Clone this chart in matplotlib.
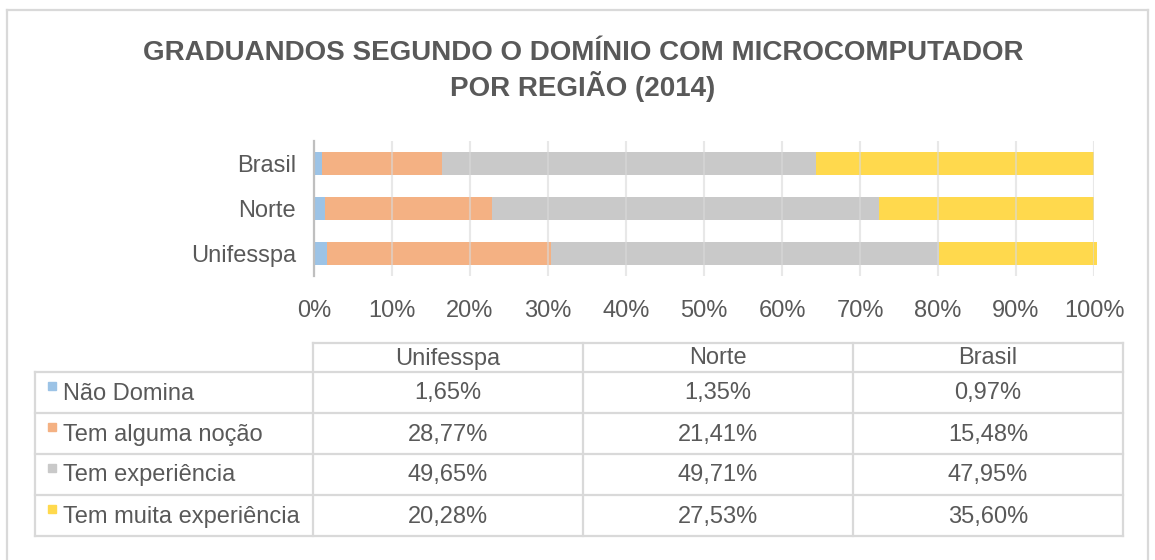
import matplotlib
matplotlib.use("Agg")
import matplotlib.pyplot as plt
from matplotlib.patches import Rectangle
from matplotlib.lines import Line2D

plt.rcParams['font.family'] = ['Liberation Sans', 'DejaVu Sans']

# ---- data ----
regions = ["Unifesspa", "Norte", "Brasil"]
series_names = ["Não Domina", "Tem alguma noção", "Tem experiência", "Tem muita experiência"]
nao_domina = [1.65, 1.35, 0.97]
alguma_nocao = [28.77, 21.41, 15.48]
experiencia = [49.65, 49.71, 47.95]
muita_experiencia = [20.28, 27.53, 35.60]
series_values = [nao_domina, alguma_nocao, experiencia, muita_experiencia]
x_ticks = [0, 10, 20, 30, 40, 50, 60, 70, 80, 90, 100]
x_tick_labels = [f"{t}%" for t in x_ticks]
title = "GRADUANDOS SEGUNDO O DOMÍNIO COM MICROCOMPUTADOR\nPOR REGIÃO (2014)"

colors = ["#9cc3e6", "#f4b183", "#c9c9c9", "#ffd94d"]
text_color = "#595959"
line_color = "#d9d9d9"

W, H = 1155, 560
fig = plt.figure(figsize=(W / 100, H / 100), dpi=100)
fig.patch.set_facecolor("white")

def fx(x):
    return x / W

def fy(y):
    return 1 - y / H

# figure frame
for (x0, y0, x1, y1) in [(7, 10, 1148, 10), (7, 10, 7, 560), (1148, 10, 1148, 560)]:
    fig.add_artist(Line2D([fx(x0), fx(x1)], [fy(y0), fy(y1)], color=line_color,
                          lw=1.6, transform=fig.transFigure))

# title
fig.text(fx(583), fy(71), title, ha="center", va="center", fontsize=20,
         fontweight="bold", color=text_color, linespacing=1.18)

# bar chart axes
ax_l, ax_r, ax_t, ax_b = 314, 1094, 141, 276
ax = fig.add_axes([fx(ax_l), fy(ax_b), fx(ax_r) - fx(ax_l), fy(ax_t) - fy(ax_b)])
ypos = list(range(len(regions)))
left = [0.0] * len(regions)
for name, vals, c in zip(series_names, series_values, colors):
    bars = ax.barh(ypos, vals, left=left, height=0.51, color=c, label=name, zorder=2)
    for b in bars:
        b.set_clip_on(False)
    left = [l + v for l, v in zip(left, vals)]

ax.set_xlim(0, 100)
ax.set_ylim(-0.5, len(regions) - 0.5)
ax.set_xticks(x_ticks)
ax.set_xticklabels(x_tick_labels)
ax.set_yticks(ypos)
ax.set_yticklabels(regions)
ax.tick_params(axis="both", length=0, labelsize=17, colors=text_color)
ax.tick_params(axis="x", pad=17)
ax.tick_params(axis="y", pad=13)
for t in ax.get_xticklabels() + ax.get_yticklabels():
    t.set_color(text_color)
ax.grid(axis="x", color=line_color, lw=1.5, alpha=0.6, zorder=3)
ax.set_axisbelow(False)
for s in ["top", "right", "bottom"]:
    ax.spines[s].set_visible(False)
ax.spines["left"].set_color("#bfbfbf")
ax.spines["left"].set_linewidth(1.6)
ax.spines["left"].set_zorder(4)

# data table
col_edges = [313, 583, 853, 1123]
label_left = 35
header_top = 343
row_edges = [372, 413, 454, 495, 536]

def hline(x0, x1, y):
    fig.add_artist(Line2D([fx(x0), fx(x1)], [fy(y), fy(y)], color=line_color,
                          lw=1.6, transform=fig.transFigure))

def vline(x, y0, y1):
    fig.add_artist(Line2D([fx(x), fx(x)], [fy(y0), fy(y1)], color=line_color,
                          lw=1.6, transform=fig.transFigure))

hline(col_edges[0], col_edges[-1], header_top)
for y in row_edges:
    hline(label_left, col_edges[-1], y)
for x in col_edges:
    vline(x, header_top, row_edges[-1])
vline(label_left, row_edges[0], row_edges[-1])

# header
for i, reg in enumerate(regions):
    cx = (col_edges[i] + col_edges[i + 1]) / 2
    fig.text(fx(cx), fy((header_top + row_edges[0]) / 2 + 1), reg, ha="center",
             va="center", fontsize=17, color=text_color)

# rows
for r, (name, vals, c) in enumerate(zip(series_names, series_values, colors)):
    cy = (row_edges[r] + row_edges[r + 1]) / 2 + 1
    fig.add_artist(Rectangle((fx(48), fy(cy - 4)), fx(8), 8 / H, color=c,
                             transform=fig.transFigure))
    fig.text(fx(63), fy(cy), name, ha="left", va="center", fontsize=17,
             color=text_color)
    for i, v in enumerate(vals):
        cx = (col_edges[i] + col_edges[i + 1]) / 2
        fig.text(fx(cx), fy(cy), f"{v:.2f}".replace(".", ",") + "%", ha="center",
                 va="center", fontsize=17, color=text_color)

fig.savefig("out.png", dpi=100)
